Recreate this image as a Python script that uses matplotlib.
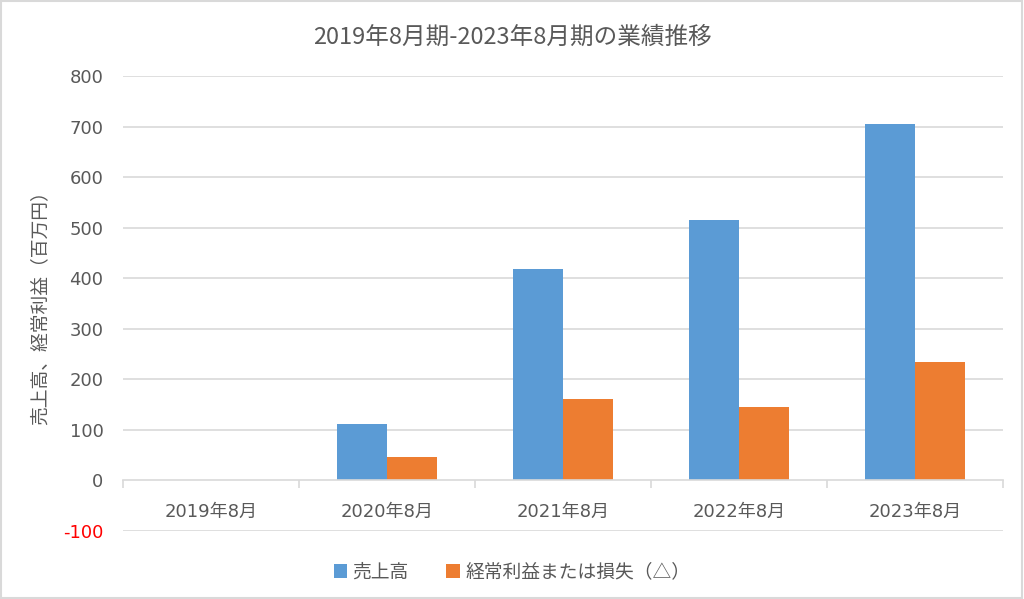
import matplotlib
matplotlib.use("Agg")
import matplotlib.pyplot as plt
import numpy as np
from matplotlib.patches import Rectangle

plt.rcParams['font.family'] = ['Noto Sans CJK JP', 'DejaVu Sans']
mixed = ['DejaVu Sans', 'Noto Sans CJK JP']

categories = ["2019年8月", "2020年8月", "2021年8月", "2022年8月", "2023年8月"]
sales = [0, 111, 418, 515, 705]
profit = [0, 46, 162, 146, 235]
series_names = ["売上高", "経常利益または損失（△）"]
yticks = [-100, 0, 100, 200, 300, 400, 500, 600, 700, 800]
title = "2019年8月期-2023年8月期の業績推移"
ylabel = "売上高、経常利益（百万円）"

blue = "#5b9bd5"
orange = "#ed7d31"
grid_c = "#d9d9d9"
text_c = "#595959"

fig = plt.figure(figsize=(10.24, 5.99), dpi=100)
ax = fig.add_axes([0.1201, 0.1135, 0.8594, 0.7596])

x = np.arange(len(categories))
w = 0.284
ax.bar(x - w/2, sales, w, color=blue, label=series_names[0], zorder=3)
ax.bar(x + w/2, profit, w, color=orange, label=series_names[1], zorder=3)

ax.set_xlim(-0.5, len(categories) - 0.5)
ax.set_ylim(-100, 800)
ax.set_yticks(yticks)
ax.set_yticklabels([str(v) for v in yticks], fontsize=13, color=text_c, family=mixed)
for lbl, v in zip(ax.get_yticklabels(), yticks):
    if v < 0:
        lbl.set_color("red")
ax.tick_params(axis='y', length=0, pad=14)
for v in yticks:
    if v != 0:
        ax.axhline(v, color=grid_c, lw=1.2, zorder=1)

for s in ['top', 'right', 'left']:
    ax.spines[s].set_visible(False)
ax.spines['bottom'].set_position(('data', 0))
ax.spines['bottom'].set_color(grid_c)
ax.spines['bottom'].set_linewidth(1.2)
ax.spines['bottom'].set_zorder(4)

ax.set_xticks(np.arange(len(categories) + 1) - 0.5)
ax.set_xticklabels([])
ax.tick_params(axis='x', which='major', length=6, color=grid_c, width=1.2, direction='out')
ax.set_xticks(x, minor=True)
ax.set_xticklabels(categories, minor=True, fontsize=13, color=text_c, family=mixed)
ax.tick_params(axis='x', which='minor', length=0, pad=16)

ax.set_ylabel(ylabel, fontsize=13.5, color=text_c)
ax.yaxis.set_label_coords(-0.082, 0.5)

fig.text(0.5, 0.938, title, ha='center', va='center', fontsize=17, color=text_c)

handles, labels = ax.get_legend_handles_labels()
leg = fig.legend(handles, labels, loc='center', ncol=2,
                 frameon=False, fontsize=13.5, handlelength=0.7, handleheight=0.7,
                 columnspacing=2.0, handletextpad=0.3, labelcolor=text_c,
                 bbox_to_anchor=(0.5, 0.045), bbox_transform=fig.transFigure)

fig.patches.append(Rectangle((0.001, 0.001), 0.997, 0.997, transform=fig.transFigure,
                             fill=False, edgecolor=grid_c, lw=1.5))

fig.savefig("out.png", dpi=100)
